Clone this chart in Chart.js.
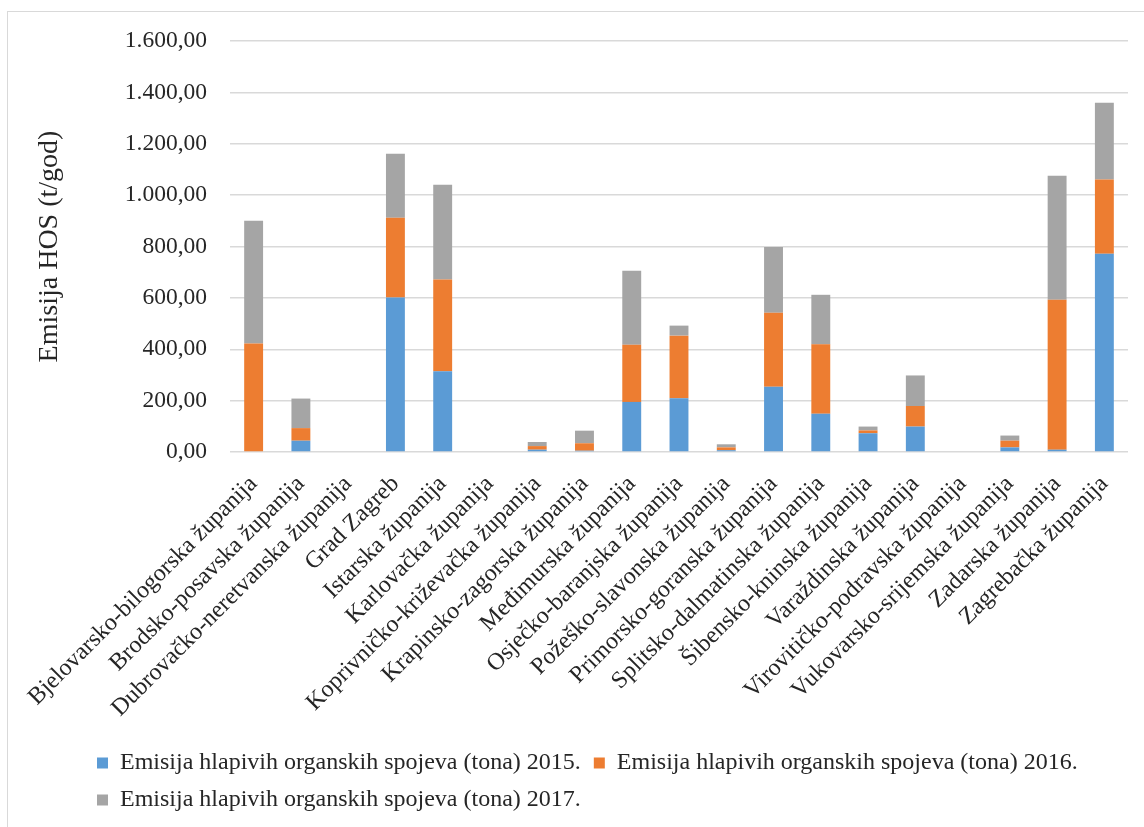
<!DOCTYPE html>
<html>
<head>
<meta charset="utf-8">
<script src="https://cdn.jsdelivr.net/npm/chart.js@4"></script>
<style>
  html, body { margin: 0; padding: 0; background: #fff; overflow: hidden; }
  #frame { position: absolute; left: 7px; top: 11px; width: 1300px; height: 1000px; border: 1.5px solid #d9d9d9; }
  #wrap { position: absolute; left: 0; top: 0; width: 1144px; height: 827px; }
</style>
</head>
<body>
<div id="frame"></div>
<div id="wrap"><canvas id="hosChart" width="1144" height="827"></canvas></div>
<script>
"use strict";

// zupanije
var zupanije = [
  "Bjelovarsko-bilogorska županija",
  "Brodsko-posavska županija",
  "Dubrovačko-neretvanska županija",
  "Grad Zagreb",
  "Istarska županija",
  "Karlovačka županija",
  "Koprivničko-križevačka županija",
  "Krapinsko-zagorska županija",
  "Međimurska županija",
  "Osječko-baranjska županija",
  "Požeško-slavonska županija",
  "Primorsko-goranska županija",
  "Splitsko-dalmatinska županija",
  "Šibensko-kninska županija",
  "Varaždinska županija",
  "Virovitičko-podravska županija",
  "Vukovarsko-srijemska županija",
  "Zadarska županija",
  "Zagrebačka županija"
];

// emisija (tona) po godinama
var emisija2015 = [0, 44, 0, 601, 314, 0, 9, 5, 195, 209, 7, 254, 149, 73, 99, 0, 18, 9, 772];
var emisija2016 = [422, 49, 0, 311, 358, 0, 14, 29, 223, 244, 11, 288, 270, 11, 80, 0, 26, 584, 289];
var emisija2017 = [478, 115, 0, 249, 368, 0, 16, 49, 288, 39, 12, 256, 193, 15, 119, 0, 20, 482, 299];

var yTicks = [0, 200, 400, 600, 800, 1000, 1200, 1400, 1600];

var serif = "'Liberation Serif', 'Times New Roman', serif";
var textColor = "#262626";

// 1.600,00 format
function hrBroj(v) {
  var parts = Math.round(v).toString().replace(/\B(?=(\d{3})+(?!\d))/g, ".");
  return parts + ",00";
}

var ctx = document.getElementById("hosChart").getContext('2d');
var myChart = new Chart(ctx, {
  type: 'bar',
  data: {
    labels: zupanije,
    datasets: [{
      label: 'Emisija hlapivih organskih spojeva (tona) 2015.',
      data: emisija2015,
      backgroundColor: '#5b9bd5'
    }, {
      label: 'Emisija hlapivih organskih spojeva (tona) 2016.',
      data: emisija2016,
      backgroundColor: '#ed7d31'
    }, {
      label: 'Emisija hlapivih organskih spojeva (tona) 2017.',
      data: emisija2017,
      backgroundColor: '#a5a5a5'
    }]
  },
  options: {
    responsive: false,
    animation: false,
    layout: {
      padding: { left: 84, top: 41, right: 16, bottom: 5 }
    },
    datasets: {
      bar: { categoryPercentage: 0.8, barPercentage: 0.5 }
    },
    scales: {
      x: {
        stacked: true,
        grid: { display: false },
        border: { display: false },
        ticks: {
          autoSkip: false,
          minRotation: 45,
          maxRotation: 45,
          padding: 10,
          color: textColor,
          font: { family: serif, size: 24 }
        },
        afterFit: function (scale) { scale.height = 286; }
      },
      y: {
        stacked: true,
        min: 0,
        max: 1600,
        afterBuildTicks: function (scale) {
          scale.ticks = yTicks.map(function (v) { return { value: v }; });
        },
        grid: { color: '#d9d9d9', lineWidth: 1.5, drawTicks: false },
        border: { display: false },
        ticks: {
          padding: 23,
          color: textColor,
          font: { family: serif, size: 23.5 },
          callback: function (v) { return hrBroj(v); }
        },
        title: {
          display: true,
          text: 'Emisija HOS (t/god)',
          color: textColor,
          font: { family: serif, size: 28, weight: 'normal' },
          padding: { top: -50.8, bottom: 0 }
        },
        afterFit: function (scale) { scale.width = 146; }
      }
    },
    plugins: {
      legend: {
        position: 'bottom',
        align: 'start',
        labels: {
          boxWidth: 11,
          boxHeight: 11,
          padding: 13,
          color: textColor,
          font: { family: serif, size: 24 }
        }
      },
      tooltip: { enabled: false }
    }
  }
});
</script>
</body>
</html>
